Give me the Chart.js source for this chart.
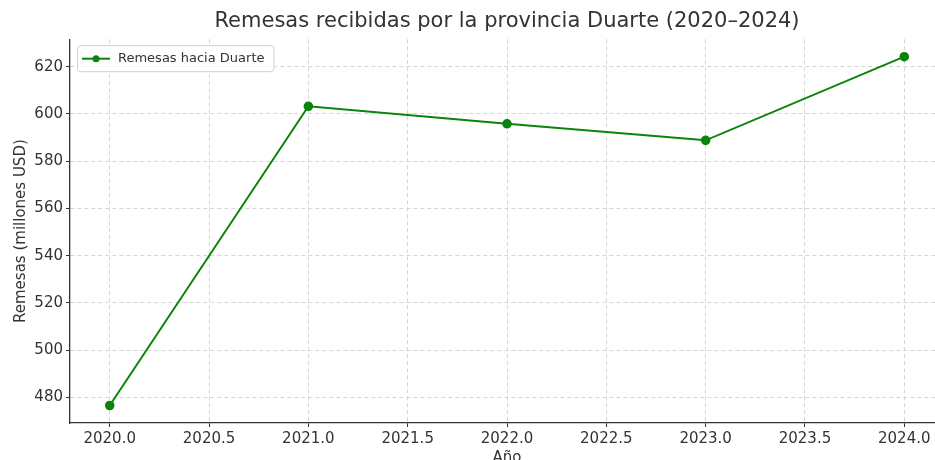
<!DOCTYPE html>
<html>
<head>
<meta charset="utf-8">
<script src="https://cdn.jsdelivr.net/npm/chart.js@4.4.1/dist/chart.umd.min.js"></script>
<style>
  html, body { margin: 0; padding: 0; background: #fff; overflow: hidden; }
  #wrap { width: 950px; height: 470px; }
</style>
</head>
<body>
<div id="wrap"><canvas id="remesasChart" width="950" height="470"></canvas></div>
<script>
const years = [2020, 2021, 2022, 2023, 2024];
const remesas = [476.6, 603.2, 595.8, 588.8, 624.2];
const seriesLabel = 'Remesas hacia Duarte';
const yTicks = [480, 500, 520, 540, 560, 580, 600, 620];

const FONT = "'DejaVu Sans', sans-serif";
const TEXT = '#333333';

// leyenda dentro del área del gráfico, arriba a la izquierda
const insideLegend = {
    id: 'insideLegend',
    afterDraw(chart) {
        const ctx = chart.ctx;
        const area = chart.chartArea;
        const ds = chart.data.datasets[0];
        ctx.save();
        ctx.font = '13px ' + FONT;
        const tw = ctx.measureText(ds.label).width;
        const x = area.left + 7, y = area.top + 6;
        const w = 10 + 28 + 8 + tw + 4, h = 26;
        ctx.fillStyle = 'rgba(255,255,255,0.85)';
        ctx.strokeStyle = '#d0d0d0';
        ctx.lineWidth = 1;
        ctx.beginPath();
        ctx.roundRect(x + 0.5, y + 0.5, w, h, 3);
        ctx.fill();
        ctx.stroke();
        const cy = y + h / 2 + 0.5;
        ctx.strokeStyle = ds.borderColor;
        ctx.lineWidth = 2;
        ctx.beginPath();
        ctx.moveTo(x + 5, cy);
        ctx.lineTo(x + 33, cy);
        ctx.stroke();
        ctx.fillStyle = ds.pointBackgroundColor;
        ctx.beginPath();
        ctx.arc(x + 19, cy, 3.5, 0, Math.PI * 2);
        ctx.fill();
        ctx.fillStyle = TEXT;
        ctx.textBaseline = 'middle';
        ctx.fillText(ds.label, x + 41, cy);
        ctx.restore();
    }
};

new Chart(document.getElementById('remesasChart'), {
    type: 'line',
    data: {
        datasets: [{
            label: seriesLabel,
            data: years.map((y, i) => ({ x: y, y: remesas[i] })),
            borderColor: '#0a840a',
            backgroundColor: '#0a840a',
            pointBackgroundColor: '#0a840a',
            pointBorderColor: '#0a840a',
            pointRadius: 3.8,
            borderWidth: 2,
            tension: 0,
            fill: false
        }]
    },
    options: {
        responsive: false,
        animation: false,
        layout: { padding: 0 },
        plugins: {
            legend: { display: false },
            tooltip: { enabled: false },
            title: {
                display: true,
                fullSize: false,
                text: 'Remesas recibidas por la provincia Duarte (2020–2024)',
                color: TEXT,
                font: { family: FONT, size: 21, weight: 'normal' },
                padding: { top: 9, bottom: 5 }
            }
        },
        scales: {
            x: {
                type: 'linear',
                min: 2019.8,
                max: 2024.2,
                afterFit: s => { s.height = 47; },
                afterBuildTicks: s => {
                    s.ticks = [2020, 2020.5, 2021, 2021.5, 2022, 2022.5, 2023, 2023.5, 2024].map(v => ({ value: v }));
                },
                ticks: {
                    color: TEXT,
                    font: { family: FONT, size: 15 },
                    padding: 3,
                    maxRotation: 0,
                    callback: v => v.toFixed(1)
                },
                grid: { color: '#cccccc', lineWidth: 0.8, tickLength: 4, tickColor: TEXT, tickWidth: 1 },
                border: { display: true, color: TEXT, width: 1.3, dash: [4, 3] },
                title: {
                    display: true,
                    text: 'Año',
                    color: TEXT,
                    font: { family: FONT, size: 15 },
                    padding: { top: 0, bottom: 3 }
                }
            },
            y: {
                min: 469.2,
                max: 631.6,
                afterFit: s => { s.width = 70; },
                afterBuildTicks: s => { s.ticks = yTicks.map(v => ({ value: v })); },
                ticks: {
                    color: TEXT,
                    font: { family: FONT, size: 15 },
                    padding: 3
                },
                grid: { color: '#cccccc', lineWidth: 0.8, tickLength: 4, tickColor: TEXT, tickWidth: 1 },
                border: { display: true, color: TEXT, width: 1.3, dash: [4, 3] },
                title: {
                    display: true,
                    text: 'Remesas (millones USD)',
                    color: TEXT,
                    font: { family: FONT, size: 15 },
                    padding: { top: 12, bottom: 0 }
                }
            }
        }
    },
    plugins: [insideLegend]
});
</script>
</body>
</html>
